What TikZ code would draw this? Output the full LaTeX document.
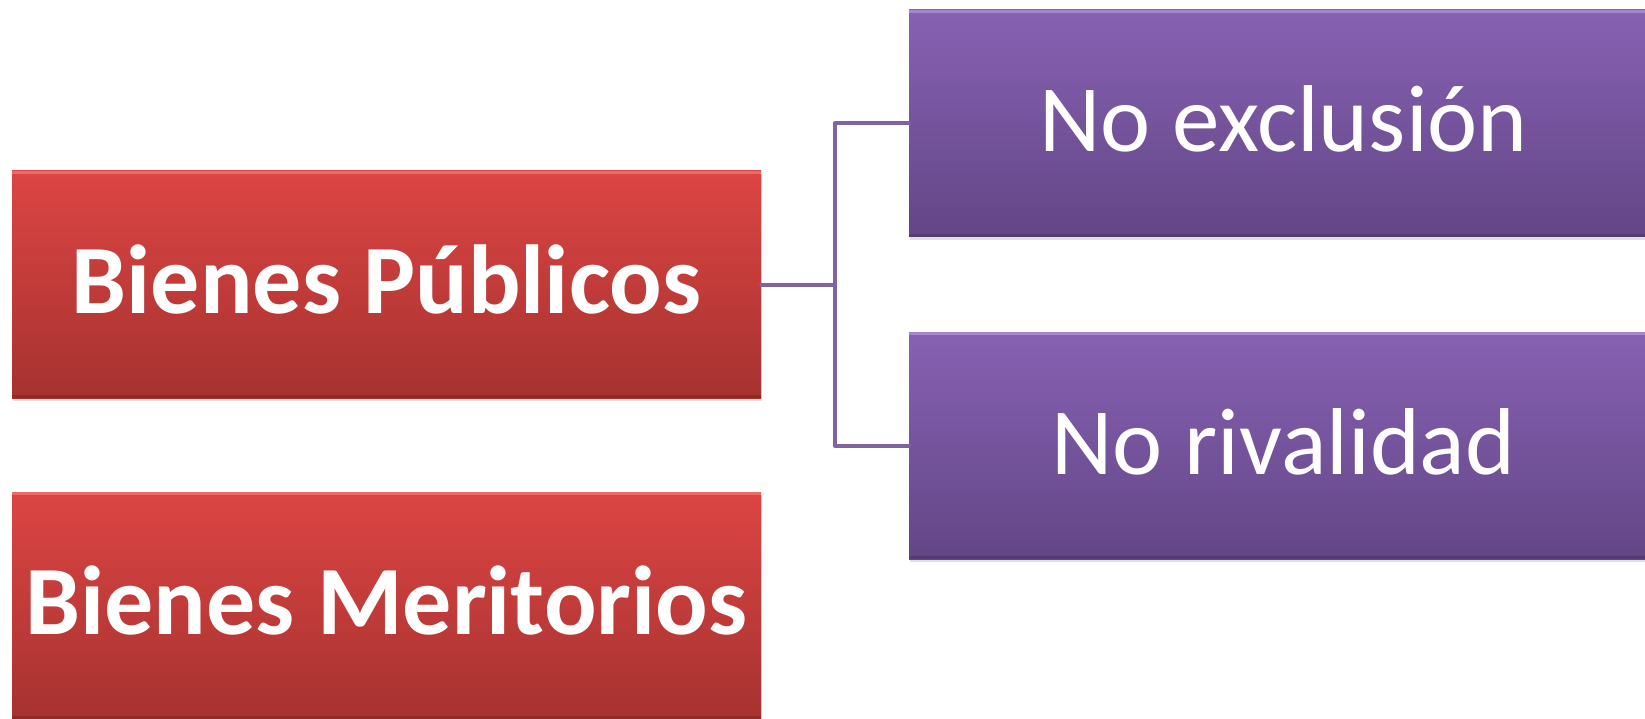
\documentclass[tikz,border=0pt]{standalone}
\usepackage{fontspec}
\setmainfont{Carlito}
\usetikzlibrary{shadows}
\definecolor{redtop}{HTML}{DC4543}
\definecolor{redbot}{HTML}{A63230}
\definecolor{redhi}{HTML}{EE6A66}
\definecolor{redlo}{HTML}{8E2A27}
\definecolor{purtop}{HTML}{8761B3}
\definecolor{purbot}{HTML}{634686}
\definecolor{purhi}{HTML}{A585D0}
\definecolor{purlo}{HTML}{543B76}
\definecolor{connc}{HTML}{8064A2}
\tikzset{
  boxbase/.style={rectangle, minimum width=749pt, minimum height=227pt, inner sep=0pt,
    text height=57pt, text depth=0pt,
    text=white, drop shadow={shadow xshift=1pt, shadow yshift=-3pt, opacity=0.25}},
  redbox/.style={boxbase, top color=redtop, bottom color=redbot,
    font=\fontsize{98}{100}\selectfont\bfseries,
    path picture={
      \fill[redhi] (path picture bounding box.north west) rectangle ([yshift=-3pt]path picture bounding box.north east);
      \fill[redlo] ([yshift=3pt]path picture bounding box.south west) rectangle (path picture bounding box.south east);
    }},
  purbox/.style={boxbase, top color=purtop, bottom color=purbot,
    font=\fontsize{95}{97}\selectfont,
    path picture={
      \fill[purhi] (path picture bounding box.north west) rectangle ([yshift=-3pt]path picture bounding box.north east);
      \fill[purlo] ([yshift=3pt]path picture bounding box.south west) rectangle (path picture bounding box.south east);
    }},
  conn/.style={draw=connc, line width=4pt, line join=round, line cap=round}
}
\begin{document}
\begin{tikzpicture}[x=1pt,y=-1pt]
\useasboundingbox (0,0) rectangle (1645,719);
\clip (0,0) rectangle (1645,719);
\fill[white] (0,0) rectangle (1645,719);
\node[redbox] (bp) at (386.5,284.5) {Bienes Públicos};
\node[redbox] (bm) at (386.5,605.5) {Bienes Meritorios};
\node[purbox] (ne) at (1283.5,123.5) {No exclusión};
\node[purbox] (nr) at (1283.5,445.5) {No rivalidad};
\coordinate (j) at (835,284.5);
\draw[conn] (bp.east) -- (j);
\draw[conn] (j) |- (ne.west);
\draw[conn] (j) |- (nr.west);
\end{tikzpicture}
\end{document}
